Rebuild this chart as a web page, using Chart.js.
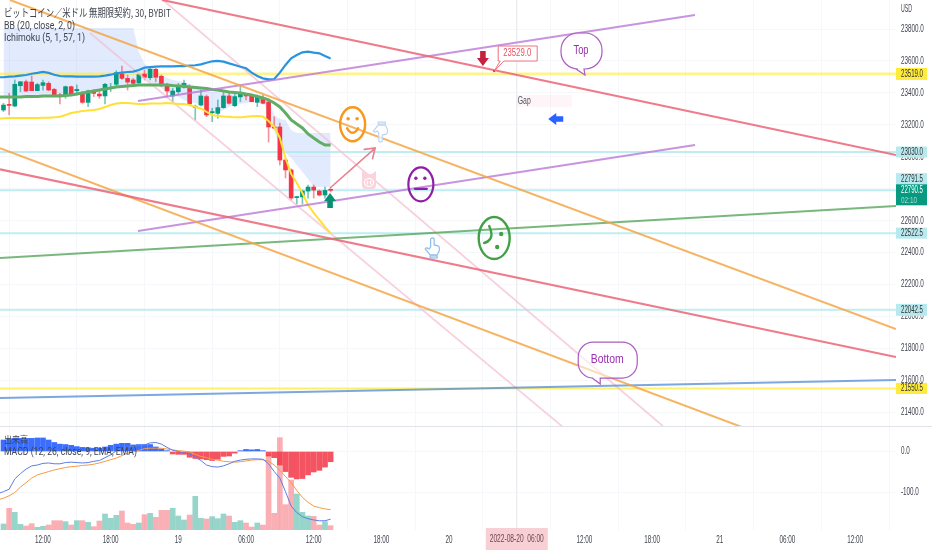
<!DOCTYPE html>
<html>
<head>
<meta charset="utf-8">
<title>BTCUSD 30</title>
<script src="https://cdn.jsdelivr.net/npm/chart.js@4"></script>
<style>
html, body { margin: 0; padding: 0; background: #fff; }
canvas { display: block; }
</style>
</head>
<body>
<canvas id="priceChart" width="932" height="426"></canvas>
<canvas id="lowerChart" width="932" height="124"></canvas>
<script>
// bars are counted in 30 minute steps, bar 0 = 08-18 12:00
var firstBar = -7;
var opens = [23293,23326,23318,23445,23470,23468,23414,23447,23460,23422,23387,23387,23439,23414,23402,23341,23414,23393,23381,23429,23454,23518,23491,23481,23462,23518,23495,23548,23504,23452,23381,23408,23435,23439,23308,23324,23377,23276,23272,23308,23381,23320,23375,23387,23381,23341,23366,23343,23187,23187,22980,22918,22745,22749,22786,22811,22786,22761,22791];
var highs = [23335,23397,23481,23470,23481,23506,23460,23481,23470,23429,23397,23443,23443,23450,23408,23418,23422,23422,23460,23460,23539,23568,23512,23491,23518,23543,23554,23554,23512,23460,23429,23460,23481,23450,23324,23418,23387,23304,23356,23408,23397,23397,23450,23397,23387,23387,23387,23349,23251,23212,22990,22925,22752,22792,22824,22824,22792,22811,22800];
var lows = [23283,23262,23314,23408,23408,23414,23414,23418,23414,23377,23331,23366,23387,23387,23335,23314,23377,23366,23331,23408,23443,23485,23418,23456,23460,23481,23481,23470,23439,23377,23345,23397,23429,23324,23231,23318,23251,23220,23241,23304,23329,23314,23345,23356,23345,23314,23331,23093,23175,22949,22868,22730,22705,22705,22742,22742,22755,22742,22780];
var closes = [23324,23322,23454,23470,23412,23414,23452,23464,23418,23387,23381,23439,23393,23422,23341,23412,23397,23381,23454,23435,23527,23491,23468,23460,23514,23498,23548,23498,23452,23412,23412,23435,23460,23331,23314,23381,23262,23283,23308,23381,23335,23377,23397,23381,23345,23377,23335,23187,23180,22980,22918,22742,22749,22786,22811,22792,22761,22790,22790.5];

// bollinger lines, these start one bar earlier so they reach the left edge
var bbFirstBar = -8;
var bbUpper = [23498,23498,23502,23504,23508,23512,23520,23525,23531,23525,23514,23506,23504,23504,23502,23502,23502,23502,23504,23508,23514,23523,23527,23531,23533,23543,23558,23562,23564,23566,23566,23566,23568,23568,23571,23573,23579,23589,23598,23600,23596,23585,23575,23564,23554,23527,23506,23491,23485,23487,23527,23575,23616,23637,23654,23658,23652,23648,23631,23616];
var bbBasis = [23375,23375,23375,23375,23375,23378,23378,23378,23381,23381,23381,23381,23384,23387,23393,23400,23406,23412,23418,23425,23431,23437,23440,23443,23446,23450,23450,23450,23450,23450,23450,23446,23443,23443,23437,23434,23431,23428,23421,23418,23412,23406,23403,23400,23393,23387,23378,23368,23356,23337,23312,23274,23231,23206,23181,23143,23118,23093,23074,23074];
var bbLower = [23240,23241,23243,23243,23243,23243,23243,23243,23245,23245,23247,23251,23262,23274,23281,23287,23290,23293,23299,23312,23324,23334,23337,23337,23334,23331,23331,23334,23334,23334,23337,23334,23331,23331,23324,23312,23303,23281,23262,23256,23252,23251,23247,23247,23251,23254,23256,23252,23224,23187,23118,22993,22893,22836,22774,22699,22649,22605,22561,22523];

// ichimoku cloud edges, from firstBar to bar 51
var cloudTop = [23806,23806,23806,23806,23806,23806,23806,23806,23806,23806,23806,23806,23806,23806,23806,23806,23806,23806,23806,23806,23806,23806,23806,23806,23656,23581,23562,23543,23512,23493,23481,23475,23468,23456,23443,23431,23418,23406,23406,23400,23400,23400,23393,23393,23387,23387,23381,23356,23262,23237,23231,23168,23149,23149,23149,23149,23149,23149,23149];
var cloudBottom = [23375,23375,23375,23375,23378,23378,23378,23381,23381,23381,23381,23384,23387,23393,23400,23406,23412,23418,23425,23431,23437,23440,23443,23446,23481,23493,23468,23450,23431,23406,23387,23375,23356,23343,23337,23324,23306,23274,23281,23293,23312,23324,23331,23337,23343,23349,23343,23274,23168,23055,23024,22993,22949,22905,22861,22811,22811,22811,22811];

// trend lines: [bar, price] at both ends
var redTop = [[21.1,23981.5],[151.24,23011.5]];
var redLow = [[-7.62,22922],[151.24,21747.4]];
var orangeTop = [[-5.85,23981.5],[151.24,21922.6]];
var orangeLow = [[-7.62,23053.4],[127.1,21266.8]];
var purpleTop = [[16.84,23349.4],[115.6,23887.6]];
var purpleLow = [[16.84,22535.9],[115.6,23074.1]];
var greenLine = [[-7.62,22367],[151.24,22692.4]];
var blueLine = [[-7.62,21490.8],[151.24,21603.5]];
var pinkA = [[21.28,23981.5],[109.9,21315.6]];
var pinkB = [[8.33,23775],[92.2,21309]];
var yellowLevels = [23519, 21550.5];
var tealLevels = [23030, 22791.5, 22522.5, 22042.5];

// lower pane
var volumes = [18,65,53,17,12,19,8,11,15,28,28,25,15,28,28,23,10,27,48,35,44,57,21,17,21,46,50,38,59,59,65,42,30,45,101,35,33,40,34,48,42,23,28,21,9,21,15,225,50,277,76,150,108,53,42,41,15,25,13];
var macdHist = [28,31,32,32,32,32,33,33,28,22,18,17,15,12,10,9,8,8,11,15,18,20,20,16,17,17,17,11,6,2,-6,-7,-7,-14,-17,-18,-20,-22,-19,-12,-11,-4,2,5,4,5,2,-11,-15,-33,-49,-63,-67,-66,-57,-50,-46,-38,-25];
var macdLine = [-103,-98,-92,-67,-54,-43,-35,-33,-29,-28,-30,-30,-27,-26,-27,-28,-27,-24,-22,-15,-8,2,7,11,12,14,16,21,22,18,10,3,0,-4,-6,-14,-22,-33,-37,-38,-35,-30,-24,-21,-19,-18,-18,-19,-30,-49,-65,-98,-133,-149,-159,-164,-167,-169,-169,-165];
var signalLine = [-118,-114,-108,-100,-87,-76,-65,-57,-53,-49,-45,-42,-39,-37,-36,-34,-33,-31,-28,-24,-20,-16,-10,-4,-1,3,7,8,8,8,6,4,2,1,-1,-7,-12,-15,-19,-21,-24,-25,-26,-25,-23,-21,-20,-20,-24,-33,-46,-61,-76,-95,-112,-124,-133,-137,-140,-142];

// axes
var timeTicks = [0,12,24,36,48,60,72,84,96,108,120,132,144];
var timeLabels = ["12:00","18:00","19","06:00","12:00","18:00","20","","12:00","18:00","21","06:00","12:00"];
var priceTicks = [23800,23600,23400,23200,23000,22800,22600,22400,22200,22000,21800,21600,21400];
var macdTicks = [0,-100];

var GREEN = "#089981", RED = "#f23645";
var CROSS_BAR = 84;
var SANS = "'Liberation Sans', sans-serif";
var LABEL = "#3f434e";

function toPoints(list) {
    return list.map(function(p) { return {x: p[0], y: p[1]}; });
}
function series(values, start) {
    return values.map(function(v, i) { return {x: start + i, y: v}; });
}
function level(v) {
    return [{x: -8, y: v}, {x: 152, y: v}];
}
function lineSet(data, color, width, order) {
    return {type: "line", data: data, borderColor: color, borderWidth: width, pointRadius: 0, tension: 0, fill: false, order: order};
}

var candleColors = closes.map(function(c, i) { return c >= opens[i] ? GREEN : RED; });
var wickColors = closes.map(function(c, i) { return c >= opens[i] ? "rgba(8,153,129,0.55)" : "rgba(242,54,69,0.55)"; });
var volumeColors = closes.map(function(c, i) { return c >= opens[i] ? "rgba(8,153,129,0.42)" : "rgba(242,54,69,0.4)"; });
var histColors = macdHist.map(function(v) { return v >= 0 ? "rgba(41,98,255,0.92)" : "rgba(242,54,69,0.85)"; });

function xScale() {
    return {
        type: "linear", min: -7.62, max: 151.24, offset: false,
        afterBuildTicks: function(s) { s.ticks = timeTicks.map(function(v) { return {value: v}; }); },
        grid: {color: "#f6f7fa", drawTicks: false},
        border: {display: false}
    };
}
function fixWidth(s) {
    s.width = 36;
    s.paddingTop = 0;
    s.paddingBottom = 0;
}
function fixHeight(h) {
    return function(s) {
        s.height = h;
        s.paddingLeft = 0;
        s.paddingRight = 0;
    };
}

// the screenshot is squeezed sideways, so the axis text gets the same squeeze
var squeezeTicks = {
    id: "squeezeTicks",
    beforeDraw: function(chart) {
        var ctx = chart.ctx;
        if (ctx.fillTextPlain) return;
        ctx.fillTextPlain = ctx.fillText;
        ctx.fillText = function(str, x, y, w) {
            ctx.fillTextPlain(str, x, y, w === undefined ? ctx.measureText(str).width * 0.63 : w);
        };
    }
};

function text(ctx, str, x, y, font, color, width, align) {
    ctx.font = font;
    ctx.fillStyle = color;
    ctx.textAlign = align || "left";
    ctx.textBaseline = "middle";
    ctx.fillText(str, x, y, width);
}
function crosshair(chart) {
    var ctx = chart.ctx, a = chart.chartArea, x = chart.scales.x.getPixelForValue(CROSS_BAR);
    ctx.save();
    ctx.strokeStyle = "#e6e7ec";
    ctx.lineWidth = 1;
    ctx.beginPath();
    ctx.moveTo(x, a.top);
    ctx.lineTo(x, a.bottom);
    ctx.stroke();
    ctx.restore();
}

function at(chart, bar, price) {
    return {x: chart.scales.x.getPixelForValue(bar), y: chart.scales.y.getPixelForValue(price)};
}
function face(ctx, p, rx, ry, color, lw) {
    ctx.strokeStyle = color;
    ctx.fillStyle = color;
    ctx.lineWidth = lw;
    ctx.lineCap = "round";
    ctx.beginPath();
    ctx.ellipse(p.x, p.y, rx, ry, 0, 0, Math.PI * 2);
    ctx.stroke();
}
function dot(ctx, x, y, r) {
    ctx.beginPath();
    ctx.arc(x, y, r, 0, Math.PI * 2);
    ctx.fill();
}
function blockArrow(ctx, p, angle, color) {
    ctx.save();
    ctx.translate(p.x, p.y);
    ctx.rotate(angle);
    ctx.fillStyle = color;
    ctx.beginPath();
    ctx.moveTo(0, -8);
    ctx.lineTo(6, 0);
    ctx.lineTo(2.8, 0);
    ctx.lineTo(2.8, 7);
    ctx.lineTo(-2.8, 7);
    ctx.lineTo(-2.8, 0);
    ctx.lineTo(-6, 0);
    ctx.closePath();
    ctx.fill();
    ctx.restore();
}
function bubble(ctx, l, t, w, h, r, tip, tailX) {
    ctx.strokeStyle = "#ab5cc0";
    ctx.fillStyle = "rgba(255,255,255,0.55)";
    ctx.lineWidth = 1.2;
    ctx.beginPath();
    ctx.moveTo(l + r, t);
    ctx.lineTo(l + w - r, t);
    ctx.arcTo(l + w, t, l + w, t + r, r);
    ctx.lineTo(l + w, t + h - r);
    ctx.arcTo(l + w, t + h, l + w - r, t + h, r);
    ctx.lineTo(tailX + 5, t + h);
    ctx.lineTo(tip.x, tip.y);
    ctx.lineTo(tailX - 3, t + h);
    ctx.lineTo(l + r, t + h);
    ctx.arcTo(l, t + h, l, t + h - r, r);
    ctx.lineTo(l, t + r);
    ctx.arcTo(l, t, l + r, t, r);
    ctx.closePath();
    ctx.fill();
    ctx.stroke();
}
function hand(ctx, p, up, color) {
    ctx.save();
    ctx.translate(p.x, p.y);
    if (!up) ctx.scale(1, -1);
    ctx.strokeStyle = color;
    ctx.fillStyle = "rgba(255,255,255,0.7)";
    ctx.lineWidth = 1.2;
    ctx.beginPath();
    ctx.moveTo(-1.5, -1);
    ctx.lineTo(-1.5, -9);
    ctx.quadraticCurveTo(0.5, -11, 2, -9);
    ctx.lineTo(2, -3);
    ctx.lineTo(6, -2);
    ctx.quadraticCurveTo(8, -1, 7, 3);
    ctx.lineTo(5, 7);
    ctx.lineTo(-2, 7);
    ctx.lineTo(-7, 1);
    ctx.quadraticCurveTo(-6, -1, -3, 1);
    ctx.closePath();
    ctx.fill();
    ctx.stroke();
    ctx.fillRect(-2, 8, 7, 2);
    ctx.strokeRect(-2, 8, 7, 2);
    ctx.restore();
}
function pig(ctx, p) {
    ctx.fillStyle = "#fad3dc";
    ctx.beginPath();
    ctx.moveTo(p.x - 7, p.y - 9);
    ctx.lineTo(p.x - 3, p.y - 6);
    ctx.lineTo(p.x + 3, p.y - 6);
    ctx.lineTo(p.x + 7, p.y - 9);
    ctx.lineTo(p.x + 7, p.y + 5);
    ctx.quadraticCurveTo(p.x + 7, p.y + 9, p.x + 3, p.y + 9);
    ctx.lineTo(p.x - 3, p.y + 9);
    ctx.quadraticCurveTo(p.x - 7, p.y + 9, p.x - 7, p.y + 5);
    ctx.closePath();
    ctx.fill();
    ctx.strokeStyle = "#fff";
    ctx.lineWidth = 1.2;
    ctx.beginPath();
    ctx.ellipse(p.x, p.y + 2.5, 4.5, 4, 0, 0, Math.PI * 2);
    ctx.moveTo(p.x - 1.5, p.y + 1);
    ctx.lineTo(p.x - 1.5, p.y + 4);
    ctx.moveTo(p.x + 1.5, p.y + 1);
    ctx.lineTo(p.x + 1.5, p.y + 4);
    ctx.stroke();
}

var drawings = {
    id: "drawings",
    beforeDatasetsDraw: crosshair,
    afterDatasetsDraw: function(chart) {
        var ctx = chart.ctx, p;
        ctx.save();

        // gap box
        p = at(chart, 84, 23350);
        ctx.fillStyle = "rgba(248,187,208,0.14)";
        ctx.fillRect(p.x, p.y - 6, 55, 12);
        text(ctx, "Gap", p.x + 1, p.y, "10px " + SANS, "#50535e", 13);

        // smileys
        p = at(chart, 54.9, 23203.6);
        face(ctx, p, 12.5, 17, "#f7981d", 2.4);
        dot(ctx, p.x - 4.5, p.y - 5.5, 1.8);
        dot(ctx, p.x + 4.5, p.y - 5.5, 1.8);
        ctx.beginPath();
        ctx.moveTo(p.x - 5.5, p.y + 4);
        ctx.quadraticCurveTo(p.x, p.y + 13, p.x + 5.5, p.y + 4);
        ctx.stroke();

        p = at(chart, 67, 22828);
        face(ctx, p, 12.5, 17, "#8e1fa5", 2.2);
        dot(ctx, p.x - 5, p.y - 6, 1.7);
        dot(ctx, p.x + 4, p.y - 6, 1.7);
        ctx.beginPath();
        ctx.moveTo(p.x - 6, p.y + 4.5);
        ctx.lineTo(p.x + 6, p.y + 4.5);
        ctx.stroke();

        p = at(chart, 80, 22492);
        face(ctx, p, 15.5, 21, "#43a047", 2.4);
        dot(ctx, p.x + 7, p.y - 4, 2.2);
        dot(ctx, p.x + 3, p.y + 9, 2.2);
        ctx.beginPath();
        ctx.moveTo(p.x - 5, p.y - 12);
        ctx.quadraticCurveTo(p.x - 1, p.y - 3, p.x - 4, p.y + 1);
        ctx.quadraticCurveTo(p.x - 6, p.y + 4, p.x - 10, p.y + 5);
        ctx.stroke();

        // pink arrow off the last bar
        var a = at(chart, 50.9, 22805), b = at(chart, 58.9, 23055);
        var ang = Math.atan2(b.y - a.y, b.x - a.x);
        ctx.strokeStyle = "#e8808f";
        ctx.lineWidth = 1.6;
        ctx.beginPath();
        ctx.moveTo(a.x, a.y);
        ctx.lineTo(b.x, b.y);
        ctx.moveTo(b.x - 11 * Math.cos(ang - 0.6), b.y - 11 * Math.sin(ang - 0.6));
        ctx.lineTo(b.x, b.y);
        ctx.lineTo(b.x - 11 * Math.cos(ang + 0.6), b.y - 11 * Math.sin(ang + 0.6));
        ctx.stroke();

        // block arrows
        blockArrow(ctx, at(chart, 50.9, 22723), 0, "#0a8f72");
        blockArrow(ctx, at(chart, 78, 23618), Math.PI, "#c8213f");
        blockArrow(ctx, at(chart, 91, 23237), -Math.PI / 2, "#2962ff");

        pig(ctx, at(chart, 57.8, 22855));

        // hands
        hand(ctx, at(chart, 59.8, 23155), false, "#bcd6f2");
        hand(ctx, at(chart, 69, 22430), true, "#8fbdec");

        // price callout
        p = at(chart, 80, 23537);
        ctx.fillStyle = "#7a2e3a";
        dot(ctx, p.x, p.y, 1.1);
        ctx.strokeStyle = "#f0707f";
        ctx.fillStyle = "#fff";
        ctx.lineWidth = 1;
        ctx.beginPath();
        ctx.moveTo(p.x, p.y);
        ctx.lineTo(p.x + 6, p.y - 10);
        ctx.lineTo(p.x + 4, p.y - 10);
        ctx.lineTo(p.x + 4, p.y - 25);
        ctx.lineTo(p.x + 43, p.y - 25);
        ctx.lineTo(p.x + 43, p.y - 10);
        ctx.lineTo(p.x + 10, p.y - 10);
        ctx.closePath();
        ctx.fill();
        ctx.stroke();
        text(ctx, "23529.0", p.x + 9, p.y - 17.5, "10px " + SANS, "#e8505f", 28);

        // speech bubbles
        p = at(chart, 96.1, 23512);
        bubble(ctx, p.x - 24, p.y - 42, 41, 36, 17, p, p.x - 6);
        text(ctx, "Top", p.x - 4, p.y - 25, "13px " + SANS, "#9a2fb0", 15, "center");
        p = at(chart, 98.8, 21578);
        bubble(ctx, p.x - 22, p.y - 42, 59, 36, 15, p, p.x - 5);
        text(ctx, "Bottom", p.x + 7, p.y - 24, "12px " + SANS, "#9a2fb0", 33, "center");

        // pane legend
        text(ctx, "ビットコイン／米ドル 無期限契約, 30, BYBIT", 4, 13, "11px 'Noto Sans CJK JP'", LABEL, 167);
        text(ctx, "BB (20, close, 2, 0)", 4, 26, "11px Roboto", LABEL, 71);
        text(ctx, "Ichimoku (5, 1, 57, 1)", 4, 38, "11px Roboto", LABEL, 81);
        ctx.restore();
    },
    afterDraw: function(chart) {
        var ctx = chart.ctx, y = chart.scales.y, L = 896, W = 31;
        ctx.save();
        text(ctx, "USD", 901, 9, "10px " + SANS, LABEL, 11);
        function tag(price, shift, bg, fg, label, h) {
            var py = y.getPixelForValue(price) + shift;
            ctx.fillStyle = bg;
            ctx.fillRect(L, py - h / 2, W, h);
            text(ctx, label, 901, py, "10px " + SANS, fg, 22);
        }
        tag(23519, 0, "#ffeb3b", "#333", "23519.0", 12);
        tag(23030, 0, "#b7e9ef", "#333", "23030.0", 11);
        tag(22791.5, -11, "#b7e9ef", "#333", "22791.5", 12);
        tag(22522.5, 0, "#b7e9ef", "#333", "22522.5", 11);
        tag(22042.5, 0, "#b7e9ef", "#333", "22042.5", 12);
        tag(21550.5, 0, "#ffeb3b", "#333", "21550.5", 11);
        var cy = y.getPixelForValue(22790.5);
        ctx.fillStyle = GREEN;
        ctx.fillRect(L, cy - 6, W, 21);
        text(ctx, "22790.5", 901, cy, "10px " + SANS, "#fff", 22);
        text(ctx, "02:10", 901, cy + 10, "9.5px " + SANS, "#9fdccf", 16);
        ctx.restore();
    }
};

var lowerDrawings = {
    id: "lowerDrawings",
    beforeDatasetsDraw: crosshair,
    afterDatasetsDraw: function(chart) {
        var ctx = chart.ctx;
        ctx.save();
        text(ctx, "出来高", 4, 14, "9px 'Noto Sans CJK JP'", LABEL, 24);
        text(ctx, "MACD (12, 26, close, 9, EMA, EMA)", 4, 26, "11px Roboto", LABEL, 133);
        ctx.restore();
    },
    afterDraw: function(chart) {
        var ctx = chart.ctx, x = chart.scales.x.getPixelForValue(CROSS_BAR);
        ctx.save();
        ctx.strokeStyle = "#e0e3eb";
        ctx.lineWidth = 1;
        ctx.beginPath();
        ctx.moveTo(0, 0.5);
        ctx.lineTo(932, 0.5);
        ctx.stroke();
        ctx.fillStyle = "#f9cfd6";
        ctx.fillRect(x - 31, 102, 62, 22);
        text(ctx, "2022-08-20  06:00", x, 113, "10px " + SANS, "#6a4850", 54, "center");
        ctx.restore();
    }
};

new Chart("priceChart", {
    data: {
        datasets: [
            {type: "line", data: series(cloudTop, firstBar), borderWidth: 0, pointRadius: 0, tension: 0, fill: "+1", backgroundColor: "rgba(66,133,244,0.16)", borderColor: "transparent", order: 20},
            {type: "line", data: series(cloudBottom, firstBar), borderWidth: 0, pointRadius: 0, tension: 0, fill: false, borderColor: "transparent", order: 20},
            lineSet(level(tealLevels[0]), "rgba(170,232,238,0.75)", 2, 15),
            lineSet(level(tealLevels[1]), "rgba(170,232,238,0.75)", 2, 15),
            lineSet(level(tealLevels[2]), "rgba(170,232,238,0.75)", 2, 15),
            lineSet(level(tealLevels[3]), "rgba(170,232,238,0.75)", 2, 15),
            lineSet(level(yellowLevels[0]), "rgba(255,235,59,0.6)", 2.6, 14),
            lineSet(level(yellowLevels[1]), "rgba(255,235,59,0.75)", 2, 14),
            {type: "bar", data: series(opens.map(function(o, i) { return [lows[i], highs[i]]; }), firstBar), backgroundColor: wickColors, barThickness: 1, grouped: false, order: 13},
            {type: "bar", data: series(opens.map(function(o, i) { return [o, closes[i]]; }), firstBar), backgroundColor: candleColors, barThickness: 4, minBarLength: 1, grouped: false, order: 12},
            lineSet(toPoints(pinkA), "rgba(244,190,208,0.7)", 1.8, 9),
            lineSet(toPoints(pinkB), "rgba(244,190,208,0.7)", 1.8, 9),
            lineSet(series(bbLower, bbFirstBar), "#ffe135", 2, 8),
            lineSet(series(bbBasis, bbFirstBar), "#62ad66", 3, 8),
            lineSet(series(bbUpper, bbFirstBar), "#2a93e0", 2.2, 8),
            lineSet(toPoints(greenLine), "rgba(76,160,80,0.75)", 1.8, 7),
            lineSet(toPoints(blueLine), "rgba(70,130,210,0.7)", 2.2, 7),
            lineSet(toPoints(purpleTop), "rgba(186,120,215,0.8)", 1.8, 6),
            lineSet(toPoints(purpleLow), "rgba(186,120,215,0.8)", 1.8, 6),
            lineSet(toPoints(orangeTop), "rgba(245,166,70,0.85)", 2, 5),
            lineSet(toPoints(orangeLow), "rgba(245,166,70,0.85)", 2, 5),
            lineSet(toPoints(redTop), "rgba(236,100,118,0.85)", 2.2, 4),
            lineSet(toPoints(redLow), "rgba(236,100,118,0.85)", 2.2, 4)
        ]
    },
    options: {
        responsive: false,
        animation: false,
        layout: {padding: 0},
        plugins: {legend: {display: false}, tooltip: {enabled: false}},
        scales: {
            x: Object.assign(xScale(), {ticks: {display: false}, afterFit: fixHeight(0)}),
            y: {
                position: "right", min: 21315.6, max: 23981.5,
                afterBuildTicks: function(s) { s.ticks = priceTicks.map(function(v) { return {value: v}; }); },
                afterFit: fixWidth,
                grid: {color: "#f6f7fa", drawTicks: false},
                border: {display: false},
                ticks: {
                    padding: 5, color: LABEL,
                    font: {family: SANS, size: 10},
                    callback: function(v) { return v.toFixed(1); }
                }
            }
        }
    },
    plugins: [squeezeTicks, drawings]
});

new Chart("lowerChart", {
    data: {
        datasets: [
            {type: "bar", yAxisID: "vol", data: series(volumes, firstBar), backgroundColor: volumeColors, barThickness: 5, grouped: false, order: 5},
            {type: "bar", data: series(macdHist, firstBar), backgroundColor: histColors, barThickness: 5, grouped: false, order: 4},
            lineSet(series(signalLine, bbFirstBar), "#f59a45", 1, 3),
            lineSet(series(macdLine, bbFirstBar), "#5b7ee5", 1, 2)
        ]
    },
    options: {
        responsive: false,
        animation: false,
        layout: {padding: 0},
        plugins: {legend: {display: false}, tooltip: {enabled: false}},
        scales: {
            x: Object.assign(xScale(), {
                afterFit: fixHeight(20),
                ticks: {
                    autoSkip: false, maxRotation: 0, padding: 4, color: LABEL,
                    font: {family: SANS, size: 10},
                    callback: function(v, i) { return timeLabels[i]; }
                }
            }),
            y: {
                position: "right", min: -191.5, max: 62.2,
                afterBuildTicks: function(s) { s.ticks = macdTicks.map(function(v) { return {value: v}; }); },
                afterFit: fixWidth,
                grid: {color: "#f6f7fa", drawTicks: false},
                border: {display: false},
                ticks: {
                    padding: 5, color: LABEL,
                    font: {family: SANS, size: 10},
                    callback: function(v) { return v.toFixed(1); }
                }
            },
            vol: {display: false, min: 0, max: 312}
        }
    },
    plugins: [squeezeTicks, lowerDrawings]
});
</script>
</body>
</html>
